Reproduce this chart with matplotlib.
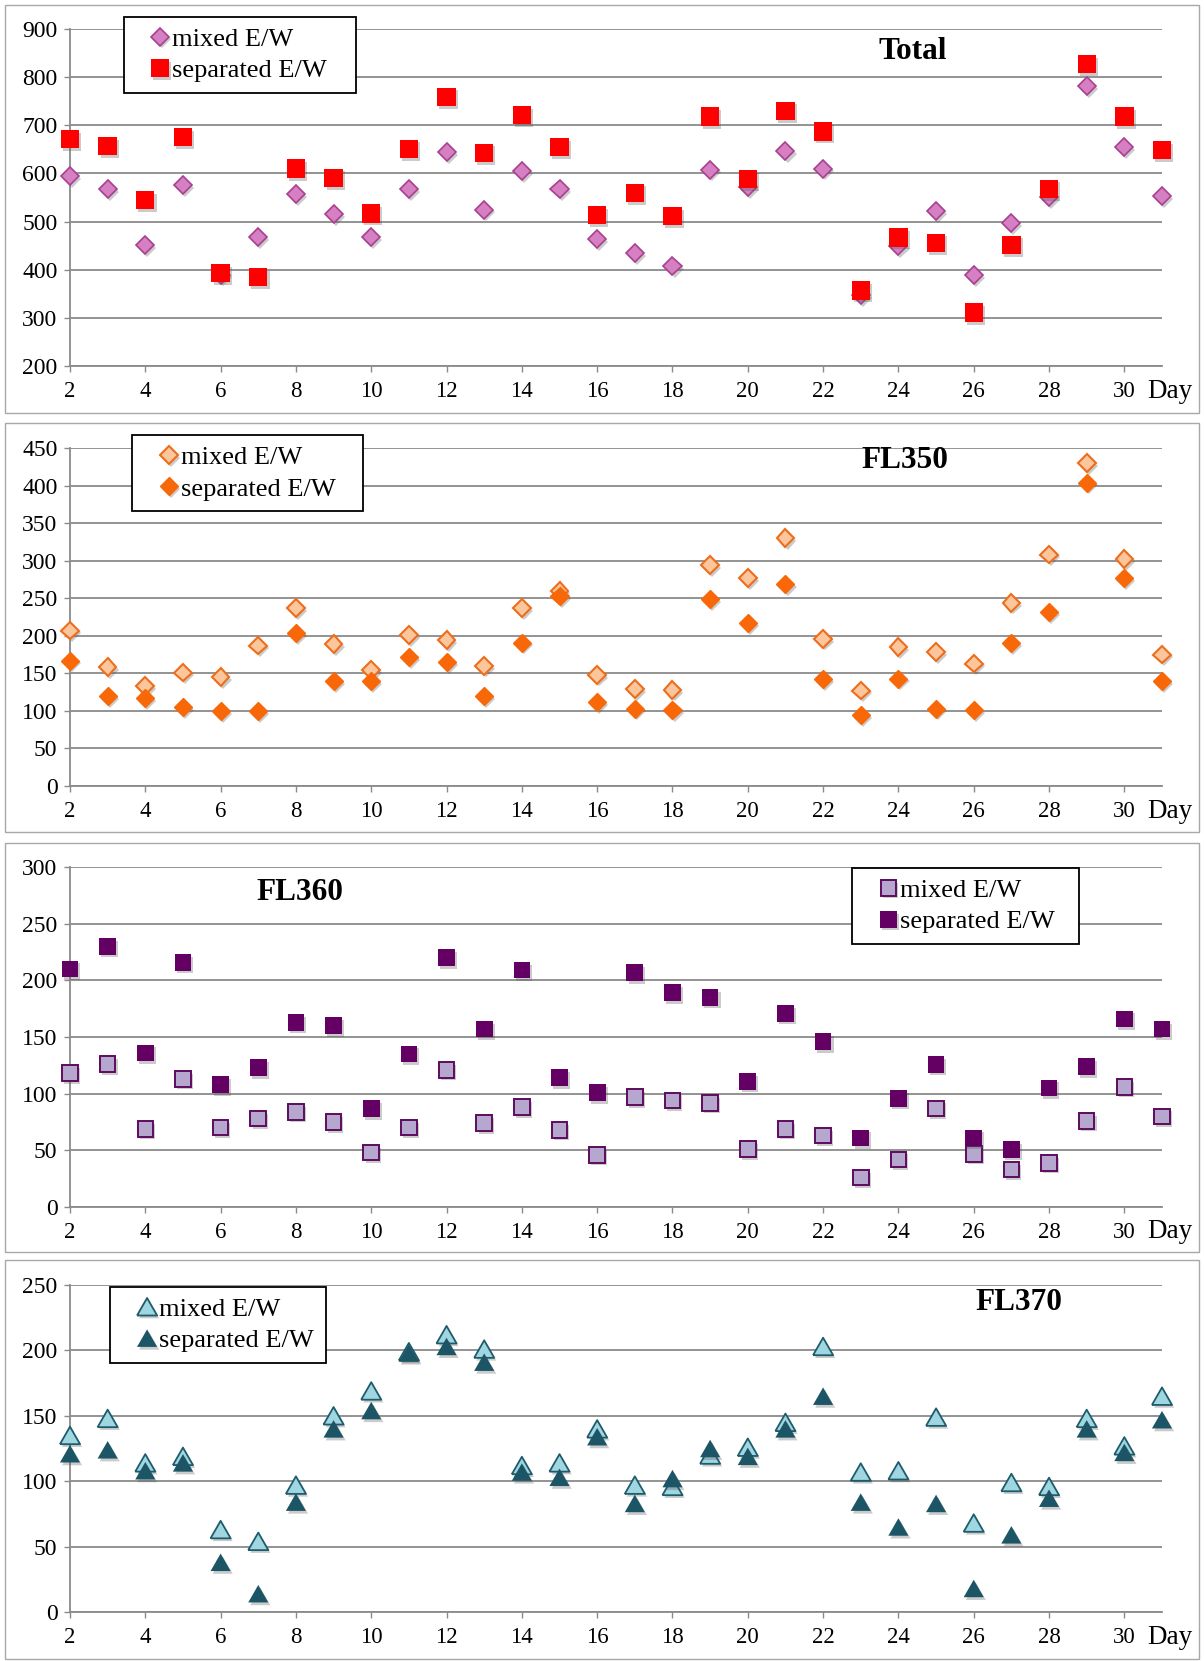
import matplotlib
matplotlib.use('Agg')
import matplotlib.pyplot as plt
import matplotlib.patheffects as pe
from matplotlib.patches import Rectangle
from matplotlib.lines import Line2D
from matplotlib.legend_handler import HandlerLine2D

plt.rcParams['font.family'] = ['Liberation Serif', 'DejaVu Serif']

# days of the month
days = list(range(2, 32))

# Total
total_mixed = [594, 567, 451, 575, 390, 468, 557, 515, 467, 568, 645, 525, 605, 568, 464,
               435, 408, 608, 572, 646, 610, 347, 449, 521, 389, 497, 551, 781, 654, 553]
total_sep = [671, 657, 545, 675, 393, 385, 610, 591, 517, 651, 759, 643, 721, 655, 513,
             560, 511, 718, 588, 730, 687, 357, 467, 456, 311, 452, 568, 827, 718, 648]

# FL350
fl350_mixed = [207, 158, 133, 151, 145, 187, 237, 189, 154, 201, 194, 160, 237, 260, 148,
               129, 128, 294, 277, 330, 196, 127, 185, 178, 163, 244, 308, 430, 302, 175]
fl350_sep = [167, 120, 117, 105, 100, 100, 204, 140, 140, 172, 165, 120, 191, 253, 112,
             103, 101, 249, 217, 269, 142, 94, 143, 103, 101, 190, 232, 404, 277, 140]

# FL360
fl360_mixed = [118, 126, 69, 113, 70, 78, 84, 75, 48, 70, 121, 74, 88, 68, 46,
               97, 94, 92, 51, 69, 63, 26, 42, 87, 47, 33, 39, 76, 106, 80]
fl360_sep = [210, 230, 136, 216, 108, 123, 163, 160, 87, 135, 220, 157, 209, 114, 101,
             207, 189, 185, 111, 171, 146, 61, 96, 126, 61, 51, 105, 124, 166, 157]

# FL370
fl370_mixed = [135, 148, 114, 119, 63, 54, 97, 150, 169, 199, 212, 201, 112, 114, 140,
               97, 96, 120, 126, 145, 203, 107, 108, 149, 68, 99, 96, 148, 127, 165]
fl370_sep = [121, 124, 108, 114, 38, 14, 84, 140, 154, 198, 203, 191, 107, 103, 134,
             83, 102, 125, 119, 140, 165, 84, 65, 83, 18, 59, 87, 140, 122, 147]


class MarkerRight(HandlerLine2D):
    # put the legend marker close to the text, like Excel does
    def get_xdata(self, legend, xdescent, ydescent, width, height, fontsize):
        x = -xdescent + width - 0.35 * fontsize
        return [x, x], [x]


W, H = 1204, 1661
fig = plt.figure(figsize=(W / 100, H / 100), dpi=100)

shadow = [pe.SimplePatchShadow(offset=(1.5, -2), shadow_rgbFace='#555555', alpha=0.3), pe.Normal()]

# a slightly wide triangle like the Excel one
tri = [(-1.15, -1), (1.15, -1), (0, 1), (-1.15, -1)]

panels = [
    dict(mixed=total_mixed, sep=total_sep, ylim=(200, 900), step=100,
         ax_px=(29, 366), frame=(5, 413), title='Total', tpos=(0.772, 0.932),
         leg=(0.049, 1.036, 0.213),
         m_style=dict(marker='D', ms=9.2, mfc='#d67fc2', mec='#a8408f', mew=1.2),
         s_style=dict(marker='s', ms=13.2, mfc='#ff0000', mec='#ff0000', mew=0)),
    dict(mixed=fl350_mixed, sep=fl350_sep, ylim=(0, 450), step=50,
         ax_px=(448, 786), frame=(423, 832), title='FL350', tpos=(0.765, 0.962),
         leg=(0.057, 1.038, 0.2115),
         m_style=dict(marker='D', ms=9.0, mfc='#fcc69c', mec='#ee6d1c', mew=1.5),
         s_style=dict(marker='D', ms=9.2, mfc='#f86808', mec='#f86808', mew=1)),
    dict(mixed=fl360_mixed, sep=fl360_sep, ylim=(0, 300), step=50,
         ax_px=(867, 1207), frame=(843, 1252), title='FL360', tpos=(0.211, 0.924),
         leg=(0.716, 0.997, 0.208),
         m_style=dict(marker='s', ms=11.2, mfc='#b6a7cf', mec='#5e0b5e', mew=1.4),
         s_style=dict(marker='s', ms=12, mfc='#640064', mec='#640064', mew=0)),
    dict(mixed=fl370_mixed, sep=fl370_sep, ylim=(0, 250), step=50,
         ax_px=(1285, 1612), frame=(1260, 1659), title='FL370', tpos=(0.869, 0.945),
         leg=(0.037, 0.994, 0.197),
         m_style=dict(marker=tri, ms=14.5, mfc='#a0d6e2', mec='#1e5c6c', mew=1.3),
         s_style=dict(marker=tri, ms=14.5, mfc='#1c5566', mec='#1c5566', mew=0)),
]

left_px, right_px = 70, 1162

for p in panels:
    top, bot = p['ax_px']
    ax = fig.add_axes([left_px / W, 1 - bot / H, (right_px - left_px) / W, (bot - top) / H])

    # frame round each panel
    ft, fb = p['frame']
    fig.patches.append(Rectangle((5 / W, 1 - fb / H), (1199 - 5) / W, (fb - ft) / H,
                                 transform=fig.transFigure, fill=False,
                                 edgecolor='#a8a8a8', lw=1.0))

    ax.plot(days, p['mixed'], ls='none', label='mixed E/W', clip_on=False,
            path_effects=shadow, zorder=3, **p['m_style'])
    ax.plot(days, p['sep'], ls='none', label='separated E/W', clip_on=False,
            path_effects=shadow, zorder=4, **p['s_style'])

    ax.set_xlim(2, 31)
    ax.set_ylim(*p['ylim'])
    ax.set_xticks(range(2, 31, 2))
    ax.set_yticks(range(p['ylim'][0], p['ylim'][1] + 1, p['step']))
    ax.yaxis.grid(True, color='#8a8a8a', lw=1.3)
    ax.set_axisbelow(True)
    for s in ['top', 'right']:
        ax.spines[s].set_visible(False)
    for s in ['left', 'bottom']:
        ax.spines[s].set_color('#8a8a8a')
        ax.spines[s].set_linewidth(1.3)
    ax.tick_params(axis='x', length=4, width=1, color='#8a8a8a', labelsize=16.5, pad=7)
    ax.tick_params(axis='y', length=4, width=1, color='#8a8a8a', labelsize=17, pad=5)

    ax.annotate('Day', xy=(30.6, 0), xycoords=('data', 'axes fraction'),
                xytext=(0, -18), textcoords='offset points',
                ha='left', va='center', fontsize=19.5)
    ax.text(p['tpos'][0], p['tpos'][1], p['title'], transform=ax.transAxes,
            ha='center', va='center', fontsize=22.5, fontweight='bold')

    lx, ly, lw = p['leg']
    leg = ax.legend(loc='upper left', bbox_to_anchor=(lx, ly, lw, 0), mode='expand',
                    fontsize=19, frameon=True, fancybox=False, edgecolor='black',
                    framealpha=1, handlelength=1.34, handletextpad=0.1,
                    labelspacing=0.3, borderpad=0.4, borderaxespad=0, markerscale=1.0,
                    handler_map={Line2D: MarkerRight()})
    leg.get_frame().set_linewidth(1.3)
    leg.set_zorder(10)

fig.savefig('out.png', dpi=100)
